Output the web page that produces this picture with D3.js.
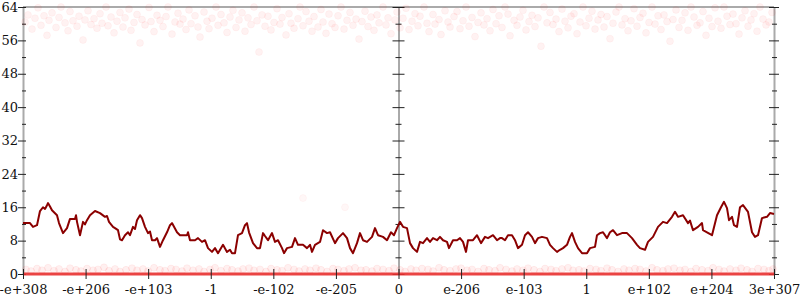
<!DOCTYPE html>
<html>
<head>
<meta charset="utf-8">
<script src="https://cdn.jsdelivr.net/npm/d3@7"></script>
<style>
body { margin: 0; background: #fff; }
</style>
</head>
<body>
<div id="chart"></div>
<script>
// tick labels along the float bit range
var tickLabels = ["-e+308", "-e+206", "-e+103", "-1", "-e-102", "-e-205", "0",
                  "e-206", "e-103", "1", "e+102", "e+204", "3e+307"];
var yTicks = [0, 4, 8, 12, 16, 20, 24, 28, 32, 36, 40, 44, 48, 52, 56, 60, 64];

// moving average, [sample, bits]
var avgLine = [[0,12.2],[7,12.2],[10,11.3],[14,11.7],[17,15.1],[20,16],[22,15.6],[24,16.5],[25,17],[27,16.2],[29,15.3],[34,14.1],[36,12.2],[40,9.8],[44,11],[47,13.2],[52,13.2],[53,14.1],[54,12.5],[57,9.3],[60,12.5],[62,11.9],[64,12.9],[67,14.1],[72,15.1],[77,14.6],[82,13.7],[84,13.9],[86,12.5],[90,11.3],[92,11],[95,10.5],[97,8.3],[99,8.1],[102,9.3],[105,10],[107,9.3],[110,11.3],[112,10.8],[114,12.9],[117,14.1],[119,13.4],[122,11.3],[125,9.8],[127,10.2],[129,8.1],[132,8.1],[134,8.6],[137,6.5],[140,8.1],[144,10],[147,11.7],[149,12.2],[154,10],[157,9.3],[164,9.3],[165,10],[167,8.1],[172,8.1],[175,8.6],[179,7.7],[182,8.1],[185,6.2],[189,5.3],[192,6.2],[195,5],[200,7],[204,5.3],[207,5.8],[209,5],[212,5],[215,9.3],[219,9.8],[222,11.7],[224,12.2],[226,10],[230,7.4],[234,6.2],[237,6.2],[240,9.8],[242,9.1],[245,8.1],[249,9.8],[252,7.7],[255,8.1],[259,6.2],[261,5],[264,6.2],[269,6.5],[272,8.6],[275,7],[280,7],[284,6.2],[287,7],[289,5.3],[292,7],[297,7.7],[300,10.5],[304,9.8],[307,10],[312,7.4],[315,8.6],[320,9.8],[324,8.6],[327,6.2],[330,5],[334,7.4],[337,9.8],[340,8.1],[344,7.7],[349,8.9],[352,11],[355,9.3],[360,8.9],[364,8.1],[368,10],[371,9.3],[374,11],[377,12.5],[380,11.3],[384,11],[387,7.4],[390,6.2],[394,5.3],[397,7.7],[400,7.4],[404,8.6],[407,7.7],[410,8.6],[414,8.1],[417,8.9],[420,8.1],[424,7.7],[426,6.2],[430,8.1],[434,8.1],[437,8.6],[440,7.7],[443,5.3],[445,8.1],[450,8.1],[454,9.3],[458,7.4],[462,8.9],[465,8.6],[470,9.3],[474,8.1],[477,8.6],[479,8.6],[482,8.1],[485,9.3],[489,9.3],[492,8.1],[495,6.2],[499,7],[502,9.3],[505,10],[509,8.9],[512,7.4],[515,8.6],[519,8.9],[524,8.6],[527,7],[530,6.2],[534,5.3],[537,5.8],[540,6.2],[544,7],[547,8.9],[549,9.8],[552,7.7],[555,6.2],[559,5],[564,5],[567,6.2],[572,6.5],[574,9.3],[577,9.8],[580,10],[584,8.6],[587,10],[590,10.5],[594,9.3],[599,9.8],[604,9.8],[609,8.6],[614,7],[617,6.2],[622,5.8],[625,7.7],[630,8.9],[635,11.3],[640,12.5],[644,12.2],[649,13.7],[652,14.9],[655,13.7],[660,14.1],[665,12.2],[667,12.8],[670,10.5],[675,11.3],[679,12.2],[680,10.5],[684,10],[689,9.3],[694,14.1],[698,16],[701,17.3],[704,15.8],[706,12.9],[709,13.7],[711,11.7],[714,11.3],[717,16],[720,16.5],[725,14.9],[729,10],[732,8.9],[735,9.3],[739,13.4],[744,13.7],[747,14.6],[751,14.4]];

// individual samples in the high band, [sample, bits]
var highBits = [[2,60.4],[5,62.1],[9,58.7],[12,61.3],[15,63.8],[18,59.6],[21,61.9],[24,57.2],[26,60.8],[29,62.6],[33,59.1],[36,61.5],[38,64],[42,60.2],[45,58.3],[47,62.9],[50,60.7],[54,59.4],[56,61.8],[60,56.1],[62,60.9],[65,63.1],[68,59.8],[71,61.2],[74,58.9],[77,62.4],[79,60.1],[83,64],[85,59.5],[88,61.6],[91,57.8],[94,60.6],[97,62.7],[100,59.2],[102,61.4],[106,63.5],[108,58.4],[111,60.3],[114,62.2],[117,55.4],[119,61],[122,59.7],[126,63.9],[128,60.5],[131,58.1],[134,62],[137,60.8],[140,59.3],[143,61.7],[145,64],[149,57.5],[152,60.4],[155,62.5],[157,59.9],[160,61.1],[163,58.6],[166,63.3],[168,60],[172,61.9],[175,59.2],[177,56.8],[181,62.8],[184,60.6],[186,58.8],[189,61.3],[193,64],[195,59.6],[198,62.2],[201,60.2],[204,57.9],[207,61.6],[210,63.2],[213,59.1],[216,60.9],[219,62.6],[222,58.2],[225,61.4],[228,59.8],[231,64],[234,60.7],[236,53.2],[239,62.1],[242,59.4],[245,61.8],[248,58.5],[251,60.3],[254,63.6],[257,59.9],[259,61.5],[263,57.3],[266,62.4],[268,60.1],[271,58.9],[275,61.2],[277,64],[280,59.5],[283,62.9],[286,60.6],[289,58.2],[291,61.7],[295,59.2],[298,63.4],[300,60.4],[303,57.7],[306,62.3],[309,60],[312,59.1],[315,61.9],[318,64],[321,58.7],[324,60.8],[327,62.7],[330,59.6],[333,61.1],[336,56.3],[339,60.5],[342,63],[345,59.3],[348,61.6],[351,58.4],[354,62.1],[356,60.2],[360,64],[363,59.7],[365,61.4],[368,57.6],[372,60.9],[374,62.8],[377,59],[380,61.3],[383,63.7],[386,58.6],[389,60.6],[392,62.4],[395,59.5],[397,61.8],[401,64],[404,60.1],[406,58.1],[410,62.2],[412,59.9],[416,61],[418,57.4],[422,63.1],[425,60.4],[427,59.2],[431,61.7],[434,62.9],[437,58.8],[440,60.7],[443,64],[446,59.4],[449,61.5],[452,56.9],[455,60.3],[458,62.6],[461,59.7],[464,61.2],[467,58.3],[470,63.4],[473,60],[476,61.9],[479,59.1],[482,64],[485,62.3],[487,57.1],[491,60.8],[494,59.6],[497,61.6],[500,63.2],[503,58.5],[506,60.5],[509,62],[512,59.3],[515,61.4],[518,54.6],[521,64],[524,60.2],[527,62.7],[530,59.8],[533,61.1],[536,58.1],[539,63.5],[542,60.6],[545,59],[548,61.8],[551,62.4],[554,57.6],[557,60.4],[560,64],[563,59.5],[566,61.3],[569,63],[572,58.7],[575,60.9],[578,62.2],[581,59.2],[584,61.7],[587,56.4],[590,60.1],[593,62.8],[596,64],[599,59.7],[602,61.2],[605,58.3],[608,60.7],[611,63.6],[614,59.4],[617,61.5],[620,62.5],[623,57.8],[626,60.3],[629,64],[632,59.9],[635,61.9],[638,58.6],[641,62.1],[644,60.5],[647,55.8],[650,61],[653,63.3],[656,59.1],[659,60.8],[662,62.6],[665,58.4],[668,64],[671,61.6],[674,59.6],[677,60.2],[680,62.9],[683,57.2],[686,61.3],[689,59.3],[692,63.8],[695,60.6],[698,58.9],[701,64],[704,61.8],[707,59.8],[710,62.3],[713,60],[716,57.5],[719,61.4],[722,63.1],[725,59.4],[728,60.9],[731,62.4],[734,58.2],[737,64],[740,61.1],[743,59.7],[746,60.4],[749,62.7]];

// samples in the low band just above zero
var lowBits = [[3,1.1],[8,0.7],[14,1.3],[19,0.9],[25,1.5],[31,0.8],[36,1.2],[42,0.6],[47,1.4],[53,1],[58,0.7],[64,1.3],[70,0.9],[75,1.1],[81,1.6],[86,0.8],[92,1.2],[97,0.6],[103,1],[109,1.4],[114,0.9],[120,1.2],[125,0.7],[131,1.5],[137,1],[142,0.8],[148,1.3],[153,1.1],[159,0.7],[164,1.4],[170,0.9],[176,1.2],[181,0.6],[187,1.1],[192,1.5],[198,0.8],[204,1.3],[209,1],[215,0.7],[220,1.2],[226,1.4],[231,0.9],[237,1.1],[243,0.6],[248,1.3],[254,1],[259,0.8],[265,1.5],[271,1.1],[276,0.7],[282,1.2],[287,0.9],[293,1.4],[298,1],[304,0.6],[310,1.3],[315,1.1],[321,0.8],[326,1.2],[332,1.5],[338,0.9],[343,1],[349,0.7],[354,1.3],[360,1.1],[366,0.8],[371,1.4],[377,1],[382,0.6],[388,1.2],[393,0.9],[399,1.3],[405,1.1],[410,0.7],[416,1.5],[421,1],[427,0.8],[433,1.2],[438,1.4],[444,0.9],[449,1.1],[455,0.6],[461,1.3],[466,1],[472,0.8],[477,1.5],[483,1.1],[489,0.7],[494,1.2],[500,0.9],[505,1.4],[511,1],[517,0.6],[522,1.3],[528,1.1],[533,0.8],[539,1.2],[545,1.5],[550,0.9],[556,1],[561,0.7],[567,1.3],[573,1.1],[578,0.8],[584,1.4],[589,1],[595,0.6],[601,1.2],[606,0.9],[612,1.3],[617,1.1],[623,0.7],[629,1.5],[634,1],[640,0.8],[645,1.2],[651,1.4],[657,0.9],[662,1.1],[668,0.6],[673,1.3],[679,1],[685,0.8],[690,1.5],[696,1.1],[701,0.7],[707,1.2],[713,0.9],[718,1.4],[724,1],[729,0.6],[735,1.3],[741,1.1],[746,0.8],[750,1.2]];

// a couple of stray samples in the middle
var strays = [[280,18.2],[322,16]];

// samples that are exactly zero cover the whole range
var zeroRun = [[0,0],[751,0]];

var width = 800, height = 300;
var svg = d3.select("#chart").append("svg").attr("width", width).attr("height", height);

var x = d3.scaleLinear().domain([0, 751]).range([23, 774]);
var y = d3.scaleLinear().domain([0, 64]).range([274, 7]);
var xt = d3.scalePoint().domain(tickLabels).range([23, 774]);

var serif = "'DejaVu Serif', serif";

// frame: top line
svg.append("line")
  .attr("x1", x(0)).attr("x2", x(751))
  .attr("y1", y(64)).attr("y2", y(64))
  .attr("stroke", "#aaa").attr("stroke-width", 2);

// vertical axes: left, middle, right
function vAxis(xpos, lineColor, lineWidth, lo, hi, minorLo, minorHi, labels) {
  var g = svg.append("g").attr("transform", "translate(" + xpos + ",0)")
    .call(d3.axisLeft(y).tickValues(yTicks).tickSizeOuter(0)
      .tickFormat(function(d){ return (labels && d % 8 == 0) ? d : ""; }));
  g.select(".domain").attr("stroke", lineColor).attr("stroke-width", lineWidth);
  g.selectAll(".tick line")
    .attr("x1", function(d){ return d % 8 == 0 ? lo : minorLo; })
    .attr("x2", function(d){ return d % 8 == 0 ? hi : minorHi; })
    .attr("stroke", "#222");
  g.selectAll(".tick text")
    .attr("x", -5)
    .attr("font-family", serif).attr("font-size", 13).attr("fill", "#111");
  return g;
}
vAxis(x(0), "#aaa", 2, -5, 3, -1, 3, true);
vAxis(xt("0"), "#555", 1, -6, 6, -3, 3, false);
vAxis(x(751), "#aaa", 2, -5, 5, -2, 3, false);

// samples
var dots = svg.append("g");
function drawDots(data, fillOp, strokeOp) {
  dots.selectAll(null).data(data).enter().append("circle")
    .attr("cx", function(d){ return x(d[0]); })
    .attr("cy", function(d){ return y(d[1]); })
    .attr("r", 3.5)
    .attr("fill", "red").attr("fill-opacity", fillOp)
    .attr("stroke", "red").attr("stroke-opacity", strokeOp);
}
drawDots(highBits, 0.05, 0.035);
drawDots(lowBits, 0.06, 0.05);
drawDots(strays, 0.03, 0.03);

// zero run
svg.append("path")
  .datum(zeroRun)
  .attr("d", d3.line().x(function(d){ return x(d[0]); }).y(function(d){ return y(d[1]); }))
  .attr("stroke", "#e8302f").attr("stroke-width", 3).attr("stroke-opacity", 0.9);

// moving average
svg.append("path")
  .datum(avgLine)
  .attr("fill", "none")
  .attr("stroke", "#8b0000")
  .attr("stroke-width", 2)
  .attr("stroke-linejoin", "round")
  .attr("d", d3.line().x(function(d){ return x(d[0]); }).y(function(d){ return y(d[1]); }));

// bottom axis
var bx = svg.append("g").attr("transform", "translate(0," + y(0) + ")")
  .call(d3.axisBottom(xt).tickSizeOuter(0));
bx.select(".domain").remove();
bx.selectAll(".tick line").attr("y1", -5).attr("y2", 5).attr("stroke", "#222");
bx.selectAll(".tick text")
  .attr("y", 11)
  .attr("font-family", serif).attr("font-size", 13).attr("fill", "#111");
</script>
</body>
</html>
